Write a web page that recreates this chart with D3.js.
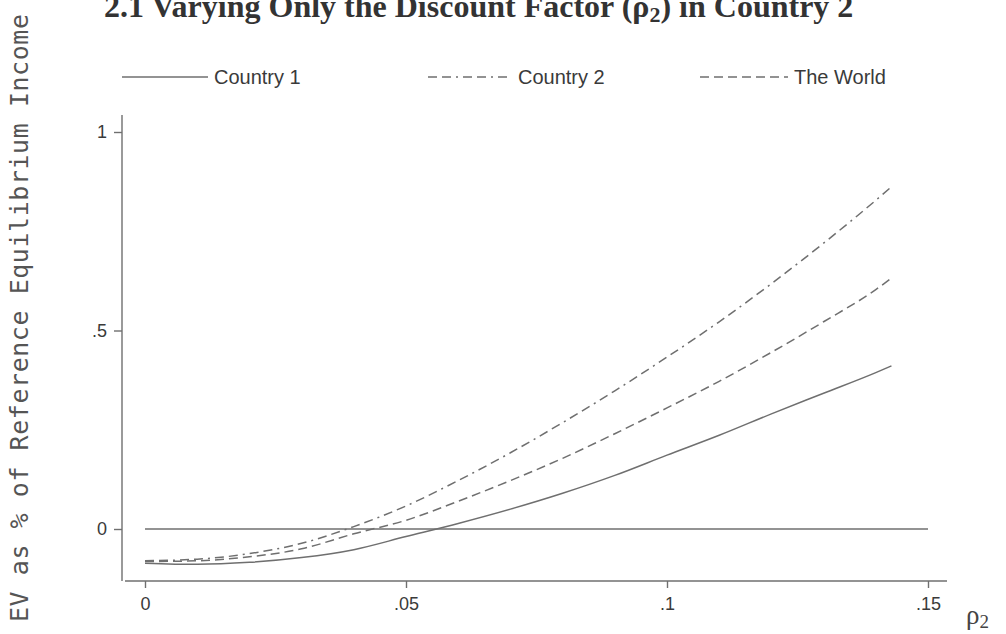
<!DOCTYPE html>
<html>
<head>
<meta charset="utf-8">
<script src="https://cdn.jsdelivr.net/npm/d3@7/dist/d3.min.js"></script>
<style>
  html, body { margin: 0; padding: 0; background: #fff; }
  svg { display: block; }
</style>
</head>
<body>
<svg id="chart" width="1006" height="634"></svg>
<script>
// Discount factor of Country 2 (x values)
const rho = [0, 0.01, 0.02, 0.03, 0.04, 0.05, 0.06, 0.07, 0.08, 0.09, 0.10, 0.11, 0.12, 0.13, 0.14, 0.143];
// Equivalent variation as a share of reference equilibrium income
const country1 = [-0.086, -0.089, -0.084, -0.072, -0.052, -0.019, 0.014, 0.050, 0.090, 0.135, 0.186, 0.236, 0.290, 0.342, 0.394, 0.411];
const country2 = [-0.080, -0.076, -0.062, -0.036, 0.006, 0.058, 0.122, 0.192, 0.268, 0.348, 0.433, 0.522, 0.618, 0.720, 0.828, 0.862];
const world    = [-0.082, -0.080, -0.070, -0.050, -0.012, 0.022, 0.070, 0.122, 0.178, 0.240, 0.305, 0.372, 0.445, 0.522, 0.603, 0.632];
const seriesNames = ["Country 1", "Country 2", "The World"];
const xTicks = [0, 0.05, 0.1, 0.15];
const yTicks = [0, 0.5, 1];

const svg = d3.select("#chart");
const ink = "#6f6f6f";
const textInk = "#3a3a3a";

const x = d3.scaleLinear().domain([0, 0.15]).range([145, 928]);
const y = d3.scaleLinear().domain([0, 1]).range([529, 132]);

const fmt = d => d === 0 ? "0" : String(d).replace(/^0/, "");

// Title (runs up against the top edge)
const title = svg.append("text")
  .attr("x", 104).attr("y", 17)
  .attr("font-family", "'Liberation Serif', 'Times New Roman', serif")
  .attr("font-weight", "bold").attr("font-size", 32)
  .attr("fill", "#333");
title.append("tspan").text("2.1 Varying Only the Discount Factor (ρ");
title.append("tspan").attr("font-size", 22).attr("dy", 5).text("2");
title.append("tspan").attr("dy", -5).text(") in Country 2");

// Y axis title
svg.append("text")
  .attr("transform", "translate(28,622) rotate(-90)")
  .attr("font-family", "'DejaVu Sans Mono', monospace")
  .attr("font-size", 25)
  .attr("fill", "#555")
  .attr("textLength", 608).attr("lengthAdjust", "spacing")
  .text("EV as % of Reference Equilibrium Income");

// Axes
const yAxis = d3.axisLeft(y).tickValues(yTicks).tickFormat(fmt).tickSize(8).tickPadding(7);
const gy = svg.append("g").attr("transform", "translate(122,0)").call(yAxis);
gy.select(".domain").remove();
gy.append("line").attr("x1", 0).attr("x2", 0).attr("y1", 115).attr("y2", 581);

const xAxis = d3.axisBottom(x).tickValues(xTicks).tickFormat(fmt).tickSize(7).tickPadding(9);
const gx = svg.append("g").attr("transform", "translate(0,581)").call(xAxis);
gx.select(".domain").remove();
gx.append("line").attr("x1", 125).attr("x2", 947).attr("y1", 0).attr("y2", 0);

[gx, gy].forEach(g => {
  g.selectAll("line").attr("stroke", ink).attr("stroke-width", 1.4);
  g.selectAll("text")
    .attr("font-family", "'Liberation Sans', Arial, sans-serif")
    .attr("font-size", 18).attr("fill", textInk);
});

// Zero reference line
svg.append("line")
  .attr("x1", x(0)).attr("x2", x(0.15))
  .attr("y1", y(0)).attr("y2", y(0))
  .attr("stroke", ink).attr("stroke-width", 1.3);

// Series
const dashes = [null, "9,5,9,5,2,5", "9,5"];
const values = [country1, country2, world];
const line = d3.line().x(d => x(d[0])).y(d => y(d[1])).curve(d3.curveMonotoneX);

values.forEach((vals, i) => {
  svg.append("path")
    .datum(rho.map((r, k) => [r, vals[k]]))
    .attr("d", line)
    .attr("fill", "none")
    .attr("stroke", ink)
    .attr("stroke-width", 1.5)
    .attr("stroke-dasharray", dashes[i]);
});

// Legend
const legendX = [122, 428, 700];
const legendLen = [86, 84, 88];
seriesNames.forEach((name, i) => {
  svg.append("line")
    .attr("x1", legendX[i]).attr("x2", legendX[i] + legendLen[i])
    .attr("y1", 77).attr("y2", 77)
    .attr("stroke", ink).attr("stroke-width", 1.5)
    .attr("stroke-dasharray", dashes[i]);
  svg.append("text")
    .attr("x", legendX[i] + legendLen[i] + 6).attr("y", 84)
    .attr("font-family", "'Liberation Sans', Arial, sans-serif")
    .attr("font-size", 20).attr("fill", textInk)
    .text(name);
});

// X axis title
const xt = svg.append("text")
  .attr("x", 966).attr("y", 624)
  .attr("font-family", "'Liberation Serif', 'Times New Roman', serif")
  .attr("font-size", 27).attr("fill", "#444");
xt.append("tspan").text("ρ");
xt.append("tspan").attr("font-size", 19).attr("dy", 4).text("2");
</script>
</body>
</html>
